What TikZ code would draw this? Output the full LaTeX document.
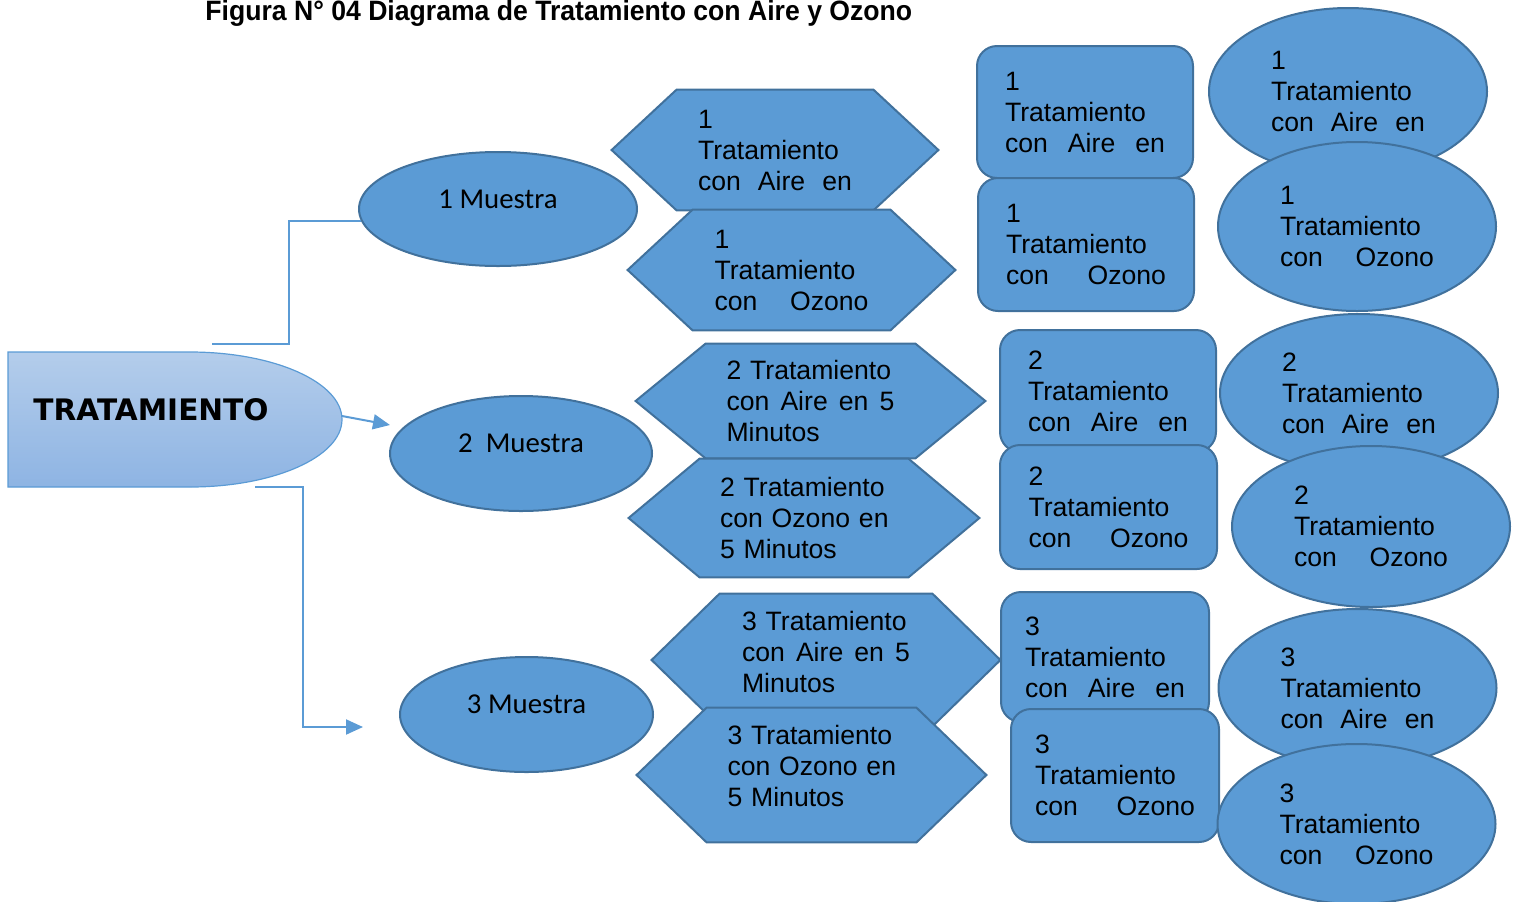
\documentclass[tikz,border=0pt]{standalone}
\usepackage{graphicx}
\usepackage{fontspec}
\setmainfont{Liberation Sans}
\newfontfamily\calibfont{Carlito}
\newfontfamily\blackfont{DejaVu Sans}
\usetikzlibrary{shapes.geometric,arrows.meta,backgrounds}

\definecolor{boxfill}{HTML}{5B9BD5}
\definecolor{boxedge}{HTML}{41719C}
\definecolor{linkblue}{HTML}{5B9BD5}
\definecolor{tratTop}{HTML}{B4CDEB}
\definecolor{tratBot}{HTML}{8EB4E3}

\newcommand{\bodyfont}{\fontsize{13.3}{15.5}\selectfont}

\tikzset{
  muestra/.style={ellipse, draw=boxedge, fill=boxfill, line width=1pt, inner sep=0pt,
    font=\calibfont\fontsize{14.4}{17}\selectfont, text depth=10pt},
  tratbox/.style={rectangle, rounded corners=10pt, draw=boxedge, fill=boxfill, line width=1pt,
    text width=80pt, align=left, inner sep=0pt, font=\bodyfont},
  tratoval/.style={ellipse, draw=boxedge, fill=boxfill, line width=1pt, minimum width=139pt,
    text width=77pt, align=left, inner sep=0pt, font=\bodyfont},
  hexnode/.style={rectangle, inner sep=0pt, align=left, font=\bodyfont},
  hexline/.style={draw=boxedge, fill=boxfill, line width=1pt},
  link/.style={draw=linkblue, line width=1pt},
  linkarrow/.style={link, -{Triangle[length=8.5pt,width=7.5pt]}},
}

% hexagon behind a text node: #1 node name, #2 chamfer
\newcommand{\hexa}[2]{%
  \draw[hexline] (#1.west) -- ([xshift=#2]#1.north west) -- ([xshift=-#2]#1.north east)
    -- (#1.east) -- ([xshift=-#2]#1.south east) -- ([xshift=#2]#1.south west) -- cycle;}

\begin{document}
\begin{tikzpicture}[x=0.5pt, y=-0.5pt]
  \useasboundingbox (0,0) rectangle (1522,901);

  % --- title at the top edge ---
  \node[anchor=base west, inner sep=0pt, font=\bfseries\fontsize{14}{16}\selectfont] (titulo) at (205,20.5)
    {\scalebox{0.95}[1]{Figura N° 04 Diagrama de Tratamiento con Aire y Ozono}};

  % --- root shape: box with an elliptic right end ---
  \draw[draw=linkblue, line width=0.6pt, top color=tratTop, bottom color=tratBot]
    (8,352) -- (190,352) arc[start angle=90, end angle=-90, x radius=76pt, y radius=33.75pt]
    -- (8,487) -- cycle;
  \node[inner sep=0pt, font=\blackfont\bfseries\fontsize{14.8}{16}\selectfont] (trat) at (151,410) {TRATAMIENTO};

  % --- samples ---
  \node[muestra, minimum width=139pt, minimum height=57pt] (m1) at (498,209) {1 Muestra};
  \node[muestra, minimum width=131pt, minimum height=57.5pt] (m2) at (521,453.5) {2\ \ Muestra};
  \node[muestra, minimum width=126.5pt, minimum height=57.5pt] (m3) at (526.5,714.5) {3 Muestra};

  % --- connectors ---
  \coordinate (c1) at (212,344);
  \coordinate (trattip) at (342,416);
  \coordinate (a2) at (390,425);
  \coordinate (c3) at (255,487);
  \coordinate (a3) at (363,727);
  \draw[link] (c1) -- ++(77,0) |- (m1.185);
  \draw[linkarrow] (trattip) -- (a2);
  \draw[linkarrow] (c3) -- ++(48,0) |- (a3);

  % --- hexagons (text nodes, outlines go behind) ---
  \node[hexnode, minimum width=163pt, minimum height=60pt, text width=77pt] (ha1) at (775,150)
    {1\\Tratamiento\\con\hfill Aire\hfill en};
  \node[hexnode, minimum width=163.5pt, minimum height=60pt, text width=77pt] (ho1) at (791.5,270)
    {1\\Tratamiento\\con\hfill Ozono};
  \node[hexnode, minimum width=174.5pt, minimum height=57pt, text width=84pt] (ha2) at (810.5,401)
    {2 Tratamiento\\con\hfill Aire\hfill en\hfill 5\\Minutos};
  \node[hexnode, minimum width=175pt, minimum height=59pt, text width=84pt] (ho2) at (804,518)
    {2 Tratamiento\\\mbox{con Ozono en}\\5 Minutos};
  \node[hexnode, minimum width=174pt, minimum height=66pt, text width=84pt] (ha3) at (826,660)
    {3 Tratamiento\\con\hfill Aire\hfill en\hfill 5\\Minutos\par\kern8.5pt};
  \node[hexnode, minimum width=174.5pt, minimum height=67pt, text width=84pt] (ho3) at (811.5,775)
    {3 Tratamiento\\\mbox{con Ozono en}\\5 Minutos\par\kern9.5pt};
  \begin{pgfonlayer}{background}
    \hexa{ha1}{32.5pt}
    \hexa{ho1}{32.5pt}
    \hexa{ha2}{35pt}
    \hexa{ho2}{35.5pt}
    \hexa{ha3}{34pt}
    \hexa{ho3}{35pt}
  \end{pgfonlayer}

  % --- rounded boxes ---
  \node[tratbox, minimum width=108pt, minimum height=66pt] (ra1) at (1085,112)
    {1\\Tratamiento\\con\hfill Aire\hfill en};
  \node[tratbox, minimum width=108pt, minimum height=66.5pt] (ro1) at (1086,244.5)
    {1\\Tratamiento\\con\hfill Ozono};
  \node[tratbox, minimum width=108pt, minimum height=61pt] (ra2) at (1108,391)
    {2\\Tratamiento\\con\hfill Aire\hfill en};
  \node[tratbox, minimum width=108.5pt, minimum height=62pt] (ro2) at (1108.5,507)
    {2\\Tratamiento\\con\hfill Ozono};
  \node[tratbox, minimum width=104pt, minimum height=65pt] (ra3) at (1105,657)
    {3\\Tratamiento\\con\hfill Aire\hfill en};
  \node[tratbox, minimum width=104pt, minimum height=66.5pt] (ro3) at (1115,775.5)
    {3\\Tratamiento\\con\hfill Ozono};

  % --- ovals ---
  \node[tratoval, minimum height=83.5pt] (ea1) at (1348,91.5)
    {1\\Tratamiento\\con\hfill Aire\hfill en};
  \node[tratoval, minimum height=84.5pt] (eo1) at (1357,226.5)
    {1\\Tratamiento\\con\hfill Ozono};
  \node[tratoval, minimum height=79pt] (ea2) at (1359,393)
    {2\\Tratamiento\\con\hfill Aire\hfill en};
  \node[tratoval, minimum height=80.5pt] (eo2) at (1371,526.5)
    {2\\Tratamiento\\con\hfill Ozono};
  \node[tratoval, minimum height=79pt] (ea3) at (1357.5,688)
    {3\\Tratamiento\\con\hfill Aire\hfill en};
  \node[tratoval, minimum height=80pt] (eo3) at (1356.5,824)
    {3\\Tratamiento\\con\hfill Ozono};
\end{tikzpicture}
\end{document}
